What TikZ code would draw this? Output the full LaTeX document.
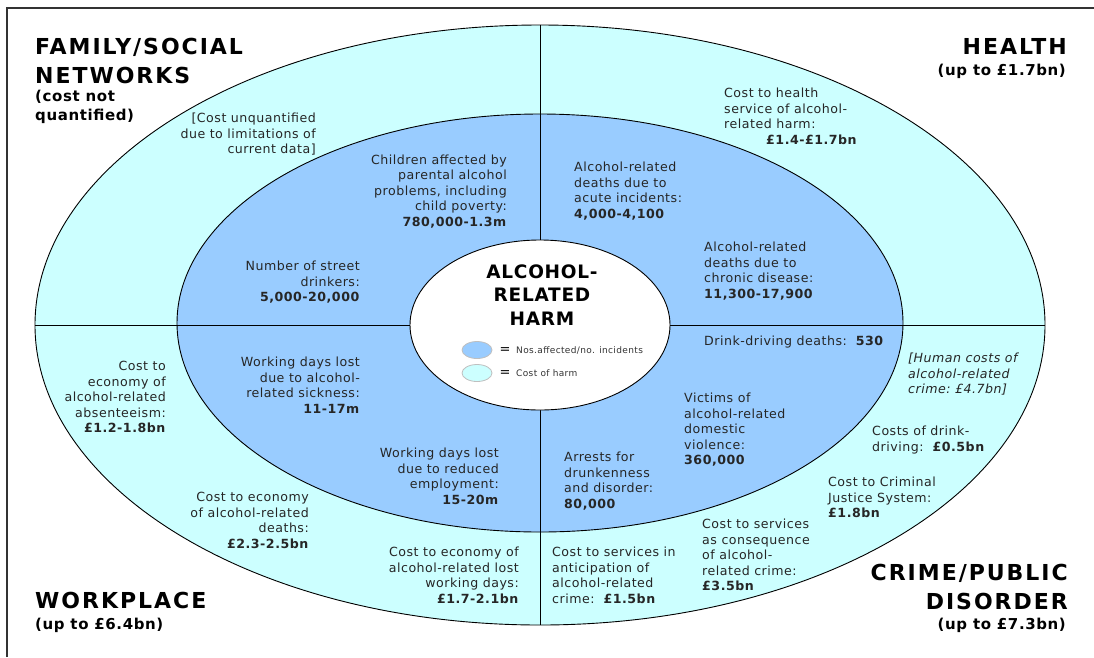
\documentclass[tikz,border=0pt]{standalone}
\usepackage{fontspec}
\setmainfont{DejaVu Sans}[LetterSpace=4]
\newfontfamily\titlefont{DejaVu Sans}[LetterSpace=9]
\usepackage{tikz}
\usetikzlibrary{shapes.geometric}
\definecolor{harmblue}{HTML}{99CCFF}
\definecolor{costcyan}{HTML}{CCFFFF}

\begin{document}
\begin{tikzpicture}[x=1pt,y=-1pt,inner sep=0pt]
        \tikzstyle{ring}=[ellipse,draw,line width=0.9pt,inner sep=0pt]
        \tikzstyle{key ring}=[ellipse,draw=black!25,line width=0.8pt,minimum width=30,minimum height=17]
        \tikzstyle{body text}=[font=\fontsize{12.6}{15.5}\selectfont,text=black!85]
        \tikzstyle{right text}=[body text,align=right,anchor=north east]
        \tikzstyle{left text}=[body text,align=left,anchor=north west]
        \tikzstyle{sector title}=[font=\titlefont\fontsize{22}{28.5}\selectfont\bfseries]
        \tikzstyle{sector cost}=[font=\fontsize{15}{18.5}\selectfont\bfseries]
        \tikzstyle{key text}=[font=\fontsize{9}{11}\selectfont,text=black!80,anchor=west]

        \useasboundingbox (0,0) rectangle (1094,657);
        \draw[line width=1.5pt,black!80] (7,657) -- (7,8) -- (1094,8);

        \node(outer)[ring,fill=costcyan,minimum width=1010,minimum height=600] at (540,325){};
        \node(inner)[ring,fill=harmblue,minimum width=726,minimum height=418] at (540,323){};
        \draw[line width=0.9pt] (outer.north) -- (outer.south);
        \draw[line width=0.9pt] (outer.west) -- (outer.east);
        \node(core)[ring,fill=white,minimum width=260,minimum height=170] at (540,325){};

        \node(harm)[font=\fontsize{18.5}{23.5}\selectfont\bfseries,align=center,anchor=north] at (542,264.5){ALCOHOL-\\RELATED\\HARM};
        \node(keyharm)[key ring,fill=harmblue] at (477,350){};
        \node(eqharm)[font=\fontsize{13}{13}\selectfont] at (505,351){=};
        \node(txtharm)[key text] at (516,350){Nos.affected/no. incidents};
        \node(keycost)[key ring,fill=costcyan] at (477,373){};
        \node(eqcost)[font=\fontsize{13}{13}\selectfont] at (505,374){=};
        \node(txtcost)[key text] at (516,373){Cost of harm};

        \node(family)[sector title,align=left,anchor=north west] at (35,38){FAMILY/SOCIAL\\NETWORKS};
        \node(familycost)[sector cost,align=left,anchor=north west] at (35,90){(cost not\\quantified)};
        \node(health)[sector title,anchor=north east] at (1067,38){HEALTH};
        \node(healthcost)[sector cost,anchor=north east] at (1066,64){(up to £1.7bn)};
        \node(work)[sector title,anchor=north west] at (35,592){WORKPLACE};
        \node(workcost)[sector cost,anchor=north west] at (35,618){(up to £6.4bn)};
        \node(crime)[sector title,align=right,anchor=north east] at (1068,564){CRIME/PUBLIC\\DISORDER};
        \node(crimecost)[sector cost,anchor=north east] at (1066,618){(up to £7.3bn)};

        \node(unquant)[right text] at (316,113){[Cost unquantified\\due to limitations of\\current data]};
        \node(street)[right text] at (360,261){Number of street\\drinkers:\\\textbf{5,000-20,000}};
        \node(children)[right text] at (507,154.5){Children affected by\\parental alcohol\\problems, including\\child poverty:\\\textbf{780,000-1.3m}};
        \node(acute)[left text] at (574,162){Alcohol-related\\deaths due to\\acute incidents:\\\textbf{4,000-4,100}};
        \node(healthsvc)[left text] at (724,88){Cost to health\\service of alcohol-\\related harm:\\\hspace*{42pt}\textbf{£1.4-£1.7bn}};
        \node(chronic)[left text] at (704,242){Alcohol-related\\deaths due to\\chronic disease:\\\textbf{11,300-17,900}};
        \node(dddeaths)[left text] at (704,336){Drink-driving deaths:\ \ \textbf{530}};
        \node(human)[left text,font=\fontsize{12.6}{15.5}\selectfont\itshape] at (908,353){[Human costs of\\alcohol-related\\crime:\ £4.7bn]};
        \node(ddcost)[left text] at (872,426){Costs of drink-\\driving:\ \ \textbf{£0.5bn}};
        \node(cjs)[left text] at (828,477){Cost to Criminal\\Justice System:\\\textbf{£1.8bn}};
        \node(conseq)[left text] at (702,519){Cost to services\\as consequence\\of alcohol-\\related crime:\\\textbf{£3.5bn}};
        \node(victims)[left text] at (684,393){Victims of\\alcohol-related\\domestic\\violence:\\\textbf{360,000}};
        \node(arrests)[left text] at (564,452){Arrests for\\drunkenness\\and disorder:\\\textbf{80,000}};
        \node(anticip)[left text] at (552,547){Cost to services in\\anticipation of\\alcohol-related\\crime:\ \ \textbf{£1.5bn}};
        \node(lostdays)[right text] at (519,547){Cost to economy of\\alcohol-related lost\\working days:\\\textbf{£1.7-2.1bn}};
        \node(reduced)[right text] at (499,448){Working days lost\\due to reduced\\employment:\\\textbf{15-20m}};
        \node(sickness)[right text] at (360,357){Working days lost\\due to alcohol-\\related sickness:\\\textbf{11-17m}};
        \node(absent)[right text] at (166,361){Cost to\\economy of\\alcohol-related\\absenteeism:\\\textbf{£1.2-1.8bn}};
        \node(deaths)[right text] at (309,492){Cost to economy\\of alcohol-related\\deaths:\\\textbf{£2.3-2.5bn}};
\end{tikzpicture}
\end{document}
